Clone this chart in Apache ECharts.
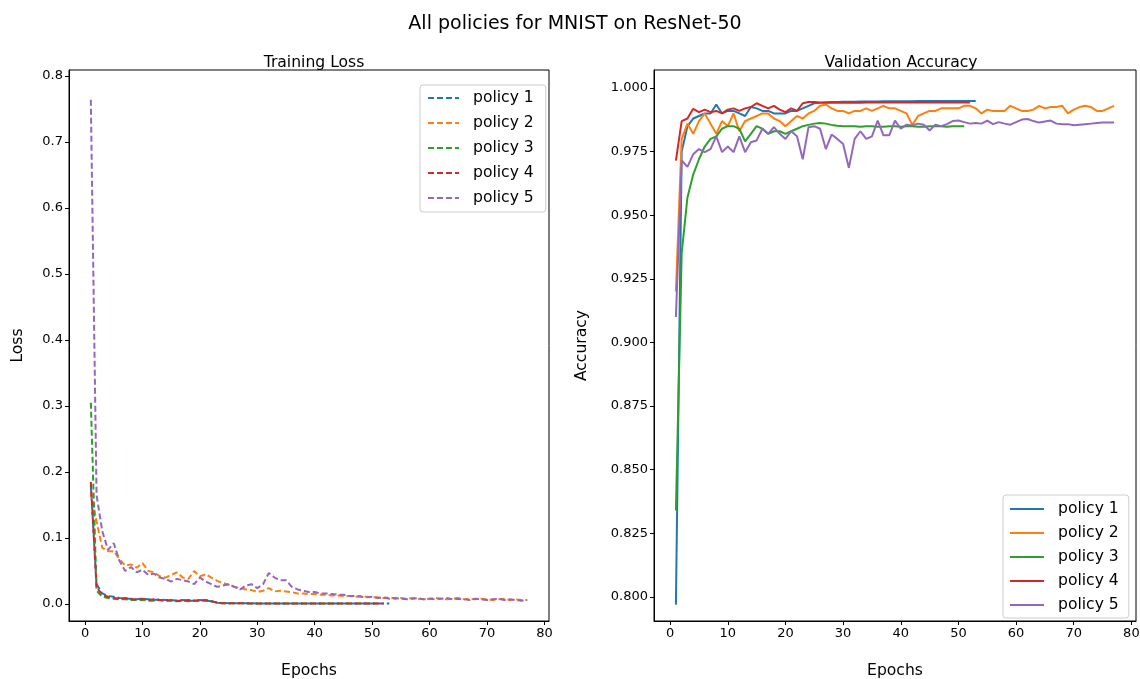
<!DOCTYPE html>
<html>
<head>
<meta charset="utf-8">
<script src="https://cdn.jsdelivr.net/npm/echarts@6/dist/echarts.min.js"></script>
<style>
  html, body { margin: 0; padding: 0; background: #fff; }
  #chart { width: 1140px; height: 679px; }
</style>
</head>
<body>
<div id="chart"></div>
<script>
// Per-epoch training loss (epochs start at 1)
const lossPolicy1 = [0.180, 0.030, 0.016, 0.012, 0.011, 0.009, 0.008, 0.008, 0.007, 0.008,
  0.007, 0.006, 0.007, 0.006, 0.006, 0.005, 0.006, 0.005, 0.005, 0.006,
  0.005, 0.004, 0.002, 0.0015, 0.0012, 0.0011, 0.0010, 0.0010, 0.0010, 0.0009,
  0.0009, 0.0009, 0.0009, 0.0009, 0.0008, 0.0008, 0.0008, 0.0008, 0.0008, 0.0008,
  0.0008, 0.0008, 0.0007, 0.0007, 0.0007, 0.0007, 0.0007, 0.0007, 0.0007, 0.0007,
  0.0007, 0.0007, 0.0007];
const lossPolicy2 = [0.170, 0.125, 0.085, 0.080, 0.080, 0.068, 0.058, 0.060, 0.055, 0.062,
  0.050, 0.048, 0.042, 0.040, 0.044, 0.048, 0.040, 0.038, 0.050, 0.042,
  0.045, 0.040, 0.035, 0.032, 0.029, 0.026, 0.024, 0.022, 0.021, 0.018,
  0.020, 0.024, 0.019, 0.020, 0.019, 0.018, 0.016, 0.016, 0.015, 0.015,
  0.014, 0.014, 0.013, 0.013, 0.012, 0.012, 0.011, 0.012, 0.011, 0.010,
  0.010, 0.009, 0.010, 0.008, 0.009, 0.008, 0.009, 0.008, 0.007, 0.008,
  0.009, 0.008, 0.007, 0.008, 0.009, 0.007, 0.008, 0.007, 0.008, 0.007,
  0.006, 0.007, 0.008, 0.006, 0.007, 0.006, 0.006];
const lossPolicy3 = [0.305, 0.020, 0.011, 0.009, 0.008, 0.007, 0.007, 0.006, 0.006, 0.006,
  0.005, 0.005, 0.006, 0.005, 0.005, 0.004, 0.005, 0.004, 0.005, 0.006,
  0.005, 0.004, 0.002, 0.0012, 0.0011, 0.0010, 0.0010, 0.0009, 0.0009, 0.0009,
  0.0009, 0.0008, 0.0008, 0.0008, 0.0008, 0.0008, 0.0008, 0.0007, 0.0007, 0.0007,
  0.0007, 0.0007, 0.0007, 0.0007, 0.0007, 0.0007, 0.0007, 0.0007, 0.0007, 0.0007,
  0.0007];
const lossPolicy4 = [0.185, 0.025, 0.014, 0.011, 0.009, 0.008, 0.009, 0.007, 0.007, 0.008,
  0.006, 0.007, 0.006, 0.005, 0.006, 0.005, 0.005, 0.006, 0.005, 0.005,
  0.006, 0.004, 0.002, 0.0012, 0.0011, 0.0010, 0.0010, 0.0010, 0.0009, 0.0009,
  0.0009, 0.0009, 0.0008, 0.0008, 0.0008, 0.0008, 0.0008, 0.0008, 0.0008, 0.0007,
  0.0007, 0.0007, 0.0007, 0.0007, 0.0007, 0.0007, 0.0007, 0.0007, 0.0007, 0.0007,
  0.0007, 0.0007];
const lossPolicy5 = [0.764, 0.165, 0.110, 0.082, 0.092, 0.065, 0.050, 0.056, 0.048, 0.052,
  0.044, 0.046, 0.040, 0.038, 0.034, 0.038, 0.036, 0.034, 0.030, 0.040,
  0.034, 0.030, 0.026, 0.028, 0.030, 0.026, 0.022, 0.028, 0.030, 0.024,
  0.030, 0.047, 0.040, 0.036, 0.036, 0.026, 0.022, 0.020, 0.018, 0.018,
  0.016, 0.016, 0.015, 0.014, 0.014, 0.012, 0.012, 0.011, 0.010, 0.011,
  0.009, 0.010, 0.008, 0.009, 0.008, 0.007, 0.008, 0.009, 0.007, 0.008,
  0.007, 0.008, 0.009, 0.007, 0.008, 0.007, 0.006, 0.008, 0.007, 0.006,
  0.007, 0.008, 0.006, 0.007, 0.006, 0.005, 0.006];

// Per-epoch validation accuracy
const accPolicy1 = [0.797, 0.975, 0.985, 0.988, 0.989, 0.990, 0.990, 0.9935, 0.990, 0.991,
  0.991, 0.990, 0.989, 0.9925, 0.992, 0.991, 0.991, 0.990, 0.990, 0.990,
  0.991, 0.991, 0.992, 0.993, 0.994, 0.9942, 0.9944, 0.9945, 0.9945, 0.9946,
  0.9946, 0.9946, 0.9947, 0.9947, 0.9947, 0.9947, 0.9948, 0.9948, 0.9948, 0.9948,
  0.9948, 0.9948, 0.9949, 0.9949, 0.9949, 0.9949, 0.9949, 0.9949, 0.9949, 0.9949,
  0.9949, 0.9949, 0.9949];
const accPolicy2 = [0.920, 0.980, 0.986, 0.982, 0.987, 0.990, 0.986, 0.982, 0.987, 0.985,
  0.990, 0.983, 0.987, 0.988, 0.989, 0.990, 0.990, 0.988, 0.987, 0.985,
  0.987, 0.989, 0.988, 0.990, 0.991, 0.993, 0.9935, 0.992, 0.991, 0.991,
  0.990, 0.991, 0.991, 0.992, 0.991, 0.992, 0.993, 0.992, 0.992, 0.991,
  0.990, 0.9855, 0.989, 0.990, 0.991, 0.991, 0.992, 0.992, 0.992, 0.992,
  0.993, 0.993, 0.992, 0.990, 0.9915, 0.991, 0.991, 0.991, 0.993, 0.992,
  0.991, 0.991, 0.9915, 0.993, 0.992, 0.9925, 0.9925, 0.993, 0.990, 0.9915,
  0.9925, 0.993, 0.9925, 0.991, 0.991, 0.992, 0.993];
const accPolicy3 = [0.834, 0.935, 0.957, 0.966, 0.972, 0.977, 0.980, 0.981, 0.984, 0.985,
  0.985, 0.984, 0.979, 0.982, 0.985, 0.984, 0.982, 0.983, 0.983, 0.982,
  0.983, 0.984, 0.985, 0.9855, 0.986, 0.9862, 0.986, 0.9855, 0.9852, 0.985,
  0.985, 0.985, 0.9848, 0.985, 0.985, 0.9848, 0.9848, 0.985, 0.985, 0.9848,
  0.985, 0.985, 0.9848, 0.9848, 0.985, 0.985, 0.985, 0.9848, 0.985, 0.985,
  0.985];
const accPolicy4 = [0.9715, 0.987, 0.988, 0.9918, 0.9905, 0.9915, 0.9905, 0.991, 0.990, 0.9915,
  0.992, 0.991, 0.992, 0.9925, 0.994, 0.993, 0.992, 0.993, 0.9915, 0.9905,
  0.992, 0.991, 0.994, 0.9945, 0.9945, 0.9943, 0.9942, 0.9942, 0.9942, 0.9942,
  0.9942, 0.9942, 0.9942, 0.9943, 0.9943, 0.9943, 0.9943, 0.9943, 0.9943, 0.9943,
  0.9943, 0.9943, 0.9943, 0.9943, 0.9943, 0.9943, 0.9943, 0.9943, 0.9943, 0.9943,
  0.9943, 0.9943];
const accPolicy5 = [0.910, 0.9715, 0.969, 0.974, 0.976, 0.9748, 0.976, 0.981, 0.9748, 0.977,
  0.9748, 0.981, 0.9748, 0.9787, 0.9794, 0.984, 0.982, 0.9846, 0.982, 0.980,
  0.983, 0.981, 0.972, 0.9846, 0.985, 0.984, 0.976, 0.9817, 0.980, 0.978,
  0.9686, 0.980, 0.983, 0.980, 0.981, 0.9872, 0.9814, 0.9814, 0.9872, 0.984,
  0.9856, 0.9853, 0.986, 0.9856, 0.9833, 0.9856, 0.985, 0.9858, 0.987, 0.9872,
  0.9866, 0.986, 0.9862, 0.986, 0.9872, 0.9858, 0.9866, 0.986, 0.9856, 0.9866,
  0.9876, 0.9878, 0.987, 0.9864, 0.9868, 0.9872, 0.986, 0.9858, 0.9858, 0.9854,
  0.9856, 0.9858, 0.986, 0.9862, 0.9864, 0.9864, 0.9864];

const policyNames = ['policy 1', 'policy 2', 'policy 3', 'policy 4', 'policy 5'];
const policyColors = ['#1f77b4', '#ff7f0e', '#2ca02c', '#d62728', '#9467bd'];
const epochTicks = [0, 10, 20, 30, 40, 50, 60, 70, 80];
const lossTicks = [0, 0.1, 0.2, 0.3, 0.4, 0.5, 0.6, 0.7, 0.8];
const accTicks = [0.8, 0.825, 0.85, 0.875, 0.9, 0.925, 0.95, 0.975, 1.0];

const lossSeries = [lossPolicy1, lossPolicy2, lossPolicy3, lossPolicy4, lossPolicy5];
const accSeries = [accPolicy1, accPolicy2, accPolicy3, accPolicy4, accPolicy5];

const FONT = 'DejaVu Sans';
const TICK_SIZE = 13;
const LARGE_SIZE = 15.6;
const toPoints = arr => arr.map((v, i) => [i + 1, v]);

function xAxisFor(gridIndex) {
  return {
    type: 'value', gridIndex: gridIndex, min: -2.8, max: 80.8,
    name: 'Epochs', nameLocation: 'middle', nameGap: 42,
    nameTextStyle: { fontFamily: FONT, fontSize: LARGE_SIZE, color: '#000' },
    axisLine: { show: true, onZero: false, lineStyle: { color: '#000', width: 1 } },
    axisTick: { show: true, inside: false, length: 4, customValues: epochTicks, lineStyle: { color: '#000' } },
    axisLabel: { customValues: epochTicks, fontFamily: FONT, fontSize: TICK_SIZE, color: '#000', margin: 6 },
    splitLine: { show: false }
  };
}

const chart = echarts.init(document.getElementById('chart'), null, { renderer: 'canvas' });

const series = [];
lossSeries.forEach((arr, i) => {
  series.push({
    name: policyNames[i], type: 'line', xAxisIndex: 0, yAxisIndex: 0,
    data: toPoints(arr), symbol: 'none', showSymbol: false,
    lineStyle: { color: policyColors[i], width: 2, type: [6, 3] },
    itemStyle: { color: policyColors[i] }, z: 2 + i
  });
});
accSeries.forEach((arr, i) => {
  series.push({
    name: policyNames[i], type: 'line', xAxisIndex: 1, yAxisIndex: 1,
    data: toPoints(arr), symbol: 'none', showSymbol: false,
    lineStyle: { color: policyColors[i], width: 2, type: 'solid' },
    itemStyle: { color: policyColors[i] }, z: 2 + i
  });
});

// Legend entries show only the line sample, no marker
const legendBase = {
  orient: 'vertical', itemHeight: 14,
  backgroundColor: '#fff', borderColor: '#cccccc', borderWidth: 1, borderRadius: 3,
  itemStyle: { opacity: 0 },
  textStyle: { fontFamily: FONT, fontSize: LARGE_SIZE, lineHeight: 14, color: '#000', padding: [0, 0, 0, 9] },
  selectedMode: false
};

chart.setOption({
  animation: false,
  backgroundColor: '#fff',
  title: [
    { text: 'All policies for MNIST on ResNet-50', left: 570, top: 10, textAlign: 'center',
      textStyle: { fontFamily: FONT, fontSize: 19, fontWeight: 'normal', color: '#000' } },
    { text: 'Training Loss', left: 309, top: 50, textAlign: 'center',
      textStyle: { fontFamily: FONT, fontSize: LARGE_SIZE, fontWeight: 'normal', color: '#000' } },
    { text: 'Validation Accuracy', left: 896, top: 50, textAlign: 'center',
      textStyle: { fontFamily: FONT, fontSize: LARGE_SIZE, fontWeight: 'normal', color: '#000' } }
  ],
  grid: [
    { left: 69, right: 591, top: 70, bottom: 58, show: true, borderColor: '#000', borderWidth: 1,
      containLabel: false, outerBoundsMode: 'none' },
    { left: 654, right: 4, top: 70, bottom: 58, show: true, borderColor: '#000', borderWidth: 1,
      containLabel: false, outerBoundsMode: 'none' }
  ],
  xAxis: [xAxisFor(0), xAxisFor(1)],
  yAxis: [
    {
      type: 'value', gridIndex: 0, min: -0.0258, max: 0.8091,
      name: 'Loss', nameLocation: 'middle', nameGap: 43,
      nameTextStyle: { fontFamily: FONT, fontSize: LARGE_SIZE, color: '#000' },
      axisLine: { show: true, onZero: false, lineStyle: { color: '#000', width: 1 } },
      axisTick: { show: true, inside: false, length: 4, customValues: lossTicks, lineStyle: { color: '#000' } },
      axisLabel: { customValues: lossTicks, fontFamily: FONT, fontSize: TICK_SIZE, color: '#000', margin: 6,
        formatter: v => v.toFixed(1) },
      splitLine: { show: false }
    },
    {
      type: 'value', gridIndex: 1, min: 0.79057, max: 1.00707,
      name: 'Accuracy', nameLocation: 'middle', nameGap: 64,
      nameTextStyle: { fontFamily: FONT, fontSize: LARGE_SIZE, color: '#000' },
      axisLine: { show: true, onZero: false, lineStyle: { color: '#000', width: 1 } },
      axisTick: { show: true, inside: false, length: 4, customValues: accTicks, lineStyle: { color: '#000' } },
      axisLabel: { customValues: accTicks, fontFamily: FONT, fontSize: TICK_SIZE, color: '#000', margin: 6,
        formatter: v => v.toFixed(3) },
      splitLine: { show: false }
    }
  ],
  legend: [
    Object.assign({}, legendBase, {
      left: 420, top: 85, itemWidth: 31, itemGap: 9, padding: [5, 12, 6, 7],
      data: policyNames.map(n => ({ name: n, lineStyle: { type: [6, 3] } }))
    }),
    Object.assign({}, legendBase, {
      left: 1003, top: 495, itemWidth: 34, itemGap: 8, padding: [6, 10, 5, 6],
      data: policyNames.map(n => ({ name: n, lineStyle: { type: 'solid' } }))
    })
  ],
  series: series
});
</script>
</body>
</html>
